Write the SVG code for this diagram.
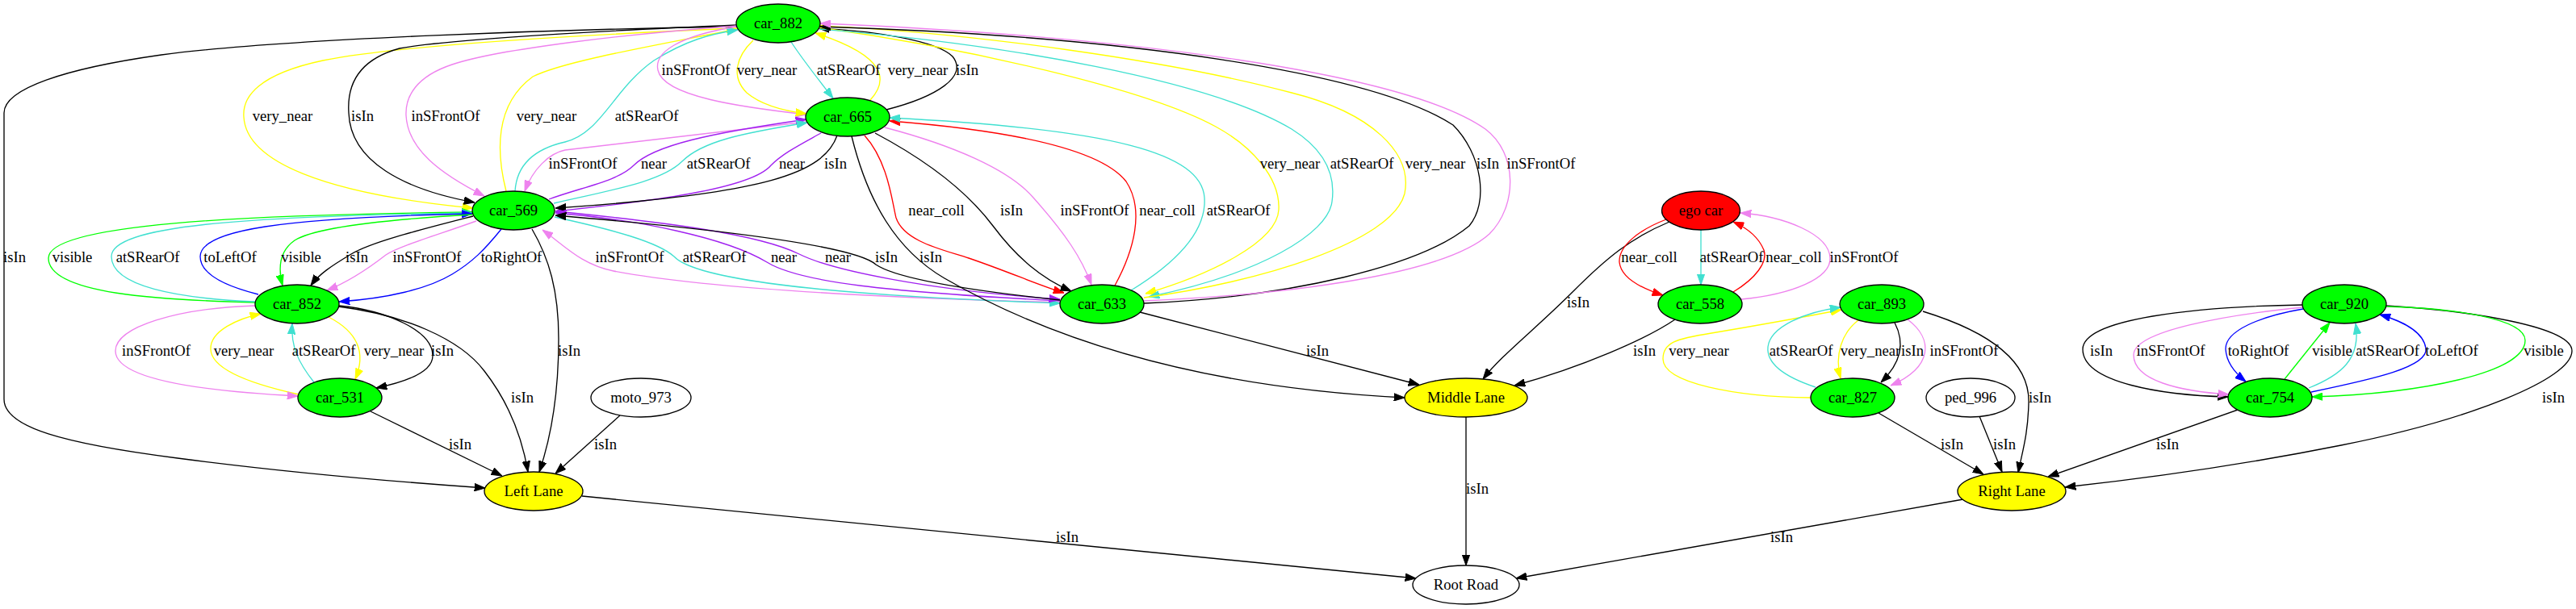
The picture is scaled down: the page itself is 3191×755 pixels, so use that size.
<svg xmlns="http://www.w3.org/2000/svg" width="3191" height="755" viewBox="0 0 3191 755">
<style>
.e{fill:none;stroke-width:1.33}
.k{stroke:#000;marker-end:url(#ak)}
.y{stroke:#ffff00;marker-end:url(#ay)}
.v{stroke:#ee82ee;marker-end:url(#av)}
.t{stroke:#40e0d0;marker-end:url(#at)}
.p{stroke:#a020f0;marker-end:url(#ap)}
.r{stroke:#ff0000;marker-end:url(#ar)}
.g{stroke:#00ff00;marker-end:url(#ag)}
.b{stroke:#0000ff;marker-end:url(#ab)}
.n ellipse{stroke:#000;stroke-width:1.33}
.gr{fill:#00ff00}.yl{fill:#ffff00}.rd{fill:#ff0000}.wh{fill:#fff}
text{font-family:"Liberation Serif","Times New Roman",serif;font-size:18.67px;text-anchor:middle;fill:#000}
</style>
<defs>
<marker id="ak" viewBox="0 0 13.3 10" refX="13.3" refY="5" markerWidth="13.3" markerHeight="10" markerUnits="userSpaceOnUse" orient="auto"><path d="M0,0.3L13.3,5L0,9.7z" fill="#000" stroke="#000"/></marker>
<marker id="ay" viewBox="0 0 13.3 10" refX="13.3" refY="5" markerWidth="13.3" markerHeight="10" markerUnits="userSpaceOnUse" orient="auto"><path d="M0,0.3L13.3,5L0,9.7z" fill="#ffff00" stroke="#ffff00"/></marker>
<marker id="av" viewBox="0 0 13.3 10" refX="13.3" refY="5" markerWidth="13.3" markerHeight="10" markerUnits="userSpaceOnUse" orient="auto"><path d="M0,0.3L13.3,5L0,9.7z" fill="#ee82ee" stroke="#ee82ee"/></marker>
<marker id="at" viewBox="0 0 13.3 10" refX="13.3" refY="5" markerWidth="13.3" markerHeight="10" markerUnits="userSpaceOnUse" orient="auto"><path d="M0,0.3L13.3,5L0,9.7z" fill="#40e0d0" stroke="#40e0d0"/></marker>
<marker id="ap" viewBox="0 0 13.3 10" refX="13.3" refY="5" markerWidth="13.3" markerHeight="10" markerUnits="userSpaceOnUse" orient="auto"><path d="M0,0.3L13.3,5L0,9.7z" fill="#a020f0" stroke="#a020f0"/></marker>
<marker id="ar" viewBox="0 0 13.3 10" refX="13.3" refY="5" markerWidth="13.3" markerHeight="10" markerUnits="userSpaceOnUse" orient="auto"><path d="M0,0.3L13.3,5L0,9.7z" fill="#ff0000" stroke="#ff0000"/></marker>
<marker id="ag" viewBox="0 0 13.3 10" refX="13.3" refY="5" markerWidth="13.3" markerHeight="10" markerUnits="userSpaceOnUse" orient="auto"><path d="M0,0.3L13.3,5L0,9.7z" fill="#00ff00" stroke="#00ff00"/></marker>
<marker id="ab" viewBox="0 0 13.3 10" refX="13.3" refY="5" markerWidth="13.3" markerHeight="10" markerUnits="userSpaceOnUse" orient="auto"><path d="M0,0.3L13.3,5L0,9.7z" fill="#0000ff" stroke="#0000ff"/></marker>
</defs>
<rect width="3191" height="755" fill="#fff"/>
<g id="edges">
<!-- car_882 edges -->
<path class="e k" d="M913,33 C700,36 350,48 200,68 C80,85 5,110 5,140 L5,495 C5,530 80,550 220,568 C350,585 500,598 601,605"/>
<path class="e y" d="M912,35 C750,42 500,55 400,75 C320,92 300,120 302,145 C305,200 400,240 586,258"/>
<path class="e k" d="M913,31 C750,38 560,48 495,60 C440,75 430,110 432,140 C434,200 500,235 588,251"/>
<path class="e v" d="M913,32 C780,42 620,60 560,80 C515,95 502,120 503,143 C505,185 545,215 600,243"/>
<path class="e y" d="M627,237 C615,190 612,130 660,95 C700,75 820,55 913,36"/>
<path class="e t" d="M638,237 C640,205 660,185 700,176 C745,165 760,110 810,75 C850,50 880,42 914,37"/>
<path class="e v" d="M912,33 C840,45 810,65 815,87 C822,120 920,133 999,142"/>
<path class="e y" d="M933,50 C912,70 905,95 925,115 C945,132 975,138 999,141"/>
<path class="e t" d="M980,52 C995,75 1015,100 1032,122"/>
<path class="e y" d="M1078,124 C1100,100 1100,70 1010,41"/>
<path class="e k" d="M1098,136 C1160,120 1200,95 1180,70 C1160,50 1080,38 1014,35"/>
<path class="e y" d="M1014,34 C1200,60 1420,110 1506,157 C1550,181 1586,220 1584,260 C1582,300 1500,340 1419,364"/>
<path class="e t" d="M1015,36 C1250,55 1500,100 1600,160 C1640,185 1655,215 1650,250 C1645,290 1560,340 1423,368"/>
<path class="e y" d="M1417,369 C1560,350 1725,300 1740,240 C1750,190 1700,140 1600,115 C1450,75 1200,40 1015,32"/>
<path class="e k" d="M1417,376 C1600,368 1760,330 1820,280 C1845,250 1835,190 1800,155 C1700,90 1400,45 1016,33"/>
<path class="e v" d="M1417,373 C1600,365 1790,340 1845,290 C1880,255 1880,190 1840,160 C1740,90 1400,45 1016,29"/>
<!-- car_665 / car_569 -->
<path class="e v" d="M999,151 L700,186 C680,190 660,210 650,237"/>
<path class="e p" d="M680,247 C720,232 765,225 785,205 C810,180 880,165 999,148"/>
<path class="e t" d="M686,252 C760,235 820,225 845,200 C870,175 920,165 1000,152"/>
<path class="e p" d="M1017,165 C990,180 970,190 955,205 C930,235 800,250 688,262"/>
<path class="e k" d="M1037,168 C1020,215 950,240 688,258"/>
<!-- car_569 / car_633 -->
<path class="e v" d="M1313,375 C1050,368 860,355 760,336 C720,328 700,305 672,285"/>
<path class="e t" d="M687,269 C760,285 815,300 835,318 C860,345 1000,365 1313,376"/>
<path class="e p" d="M1313,373 C1100,362 990,350 950,325 C900,295 790,272 688,264"/>
<path class="e p" d="M689,262 C820,275 940,290 990,315 C1030,335 1150,360 1313,371"/>
<path class="e k" d="M1313,372 C1200,360 1110,345 1085,328 C1060,305 900,285 688,267"/>
<path class="e k" d="M1055,169 C1075,250 1110,310 1170,345 C1300,420 1480,480 1740,493"/>
<!-- car_665 / car_633 -->
<path class="e r" d="M1071,168 C1100,200 1105,250 1110,270 C1120,300 1170,310 1200,320 C1250,337 1290,355 1318,363"/>
<path class="e k" d="M1084,165 C1150,200 1200,240 1230,280 C1260,320 1290,345 1327,361"/>
<path class="e v" d="M1096,158 C1180,180 1250,210 1280,245 C1320,290 1340,320 1352,353"/>
<path class="e r" d="M1381,354 C1405,310 1418,260 1395,225 C1360,180 1230,160 1102,150"/>
<path class="e t" d="M1401,360 C1450,330 1495,290 1492,245 C1488,190 1380,160 1102,146"/>
<!-- car_852 / car_569 -->
<path class="e g" d="M316,375 C200,372 60,365 60,320 C60,278 300,266 585,263"/>
<path class="e t" d="M316,374 C220,370 138,355 138,318 C138,280 300,268 585,264"/>
<path class="e b" d="M320,365 C280,355 248,340 248,318 C248,285 350,270 585,265"/>
<path class="e g" d="M585,266 C480,272 390,282 365,298 C345,312 345,335 350,354"/>
<path class="e k" d="M586,268 C520,285 460,300 435,315 C410,330 395,340 385,354"/>
<path class="e v" d="M590,274 C540,292 495,305 478,316 C460,330 435,348 405,360"/>
<path class="e b" d="M621,284 C600,310 585,325 560,340 C530,358 480,370 420,374"/>
<path class="e k" d="M659,284 C680,320 692,360 692,420 C692,500 680,550 668,585"/>
<!-- car_852 / car_531 / Left Lane -->
<path class="e k" d="M420,379 C480,385 535,410 536,440 C537,460 505,473 466,481"/>
<path class="e k" d="M419,380 C500,390 570,420 600,460 C635,505 648,550 654,585"/>
<path class="e y" d="M407,393 C440,410 455,435 440,470"/>
<path class="e t" d="M389,474 C370,450 360,430 362,401"/>
<path class="e y" d="M370,489 C320,478 262,460 261,433 C260,410 295,395 323,389"/>
<path class="e v" d="M316,379 C220,382 143,405 143,435 C143,470 250,485 369,491"/>
<path class="e k" d="M459,510 L622,590"/>
<path class="e k" d="M768,515 L688,587"/>
<path class="e k" d="M721,615 L1754,717"/>
<!-- Middle Lane -->
<path class="e k" d="M1412,387 L1758,477"/>
<path class="e k" d="M2068,275 C2020,295 1990,320 1950,360 C1900,410 1860,440 1837,470"/>
<path class="e k" d="M2075,396 C2040,420 1960,455 1876,478"/>
<path class="e k" d="M1816,516 L1816,701"/>
<!-- ego / car_558 -->
<path class="e r" d="M2064,272 C2030,285 2005,305 2006,325 C2008,345 2035,358 2060,366"/>
<path class="e t" d="M2107,285 L2107,353"/>
<path class="e r" d="M2147,362 C2175,345 2190,325 2185,310 C2178,293 2165,283 2147,275"/>
<path class="e v" d="M2157,371 C2220,365 2268,345 2267,320 C2266,290 2210,268 2156,264"/>
<!-- car_893 / car_827 -->
<path class="e y" d="M2243,493 C2150,492 2060,475 2060,445 C2060,425 2075,420 2120,413 C2180,403 2240,392 2281,384"/>
<path class="e t" d="M2249,480 C2210,467 2188,450 2190,430 C2193,405 2235,387 2280,381"/>
<path class="e y" d="M2302,397 C2282,412 2272,440 2280,469"/>
<path class="e k" d="M2347,400 C2360,425 2355,450 2330,474"/>
<path class="e v" d="M2363,396 C2395,420 2395,455 2342,478"/>
<path class="e k" d="M2382,386 C2460,410 2515,445 2513,500 C2512,540 2505,560 2500,586"/>
<path class="e k" d="M2327,512 L2457,588"/>
<path class="e k" d="M2452,516 L2480,585"/>
<path class="e k" d="M2772,508 L2537,591"/>
<path class="e k" d="M2956,379 C3060,385 3186,405 3186,435 C3186,470 3060,520 2900,552 C2760,580 2640,595 2558,604"/>
<path class="e k" d="M2432,619 L1878,717"/>
<!-- car_920 / car_754 -->
<path class="e k" d="M2852,378 C2720,380 2580,395 2580,433 C2580,475 2680,490 2760,492"/>
<path class="e v" d="M2853,381 C2760,390 2643,410 2643,440 C2643,472 2700,485 2761,489"/>
<path class="e b" d="M2853,383 C2800,392 2756,410 2757,433 C2758,450 2768,462 2782,473"/>
<path class="e g" d="M2830,470 L2886,400"/>
<path class="e t" d="M2860,481 C2900,465 2925,445 2918,401"/>
<path class="e b" d="M2863,486 C2940,470 3008,455 3005,432 C3002,410 2975,398 2948,390"/>
<path class="e g" d="M2956,380 C3040,382 3128,395 3128,422 C3128,462 3000,488 2864,492"/>
</g>
<g id="edge-labels">
<text x="862" y="93">inSFrontOf</text><text x="950" y="93">very_near</text><text x="1051" y="93">atSRearOf</text><text x="1137" y="93">very_near</text><text x="1198" y="93">isIn</text>
<text x="350" y="150">very_near</text><text x="449" y="150">isIn</text><text x="552" y="150">inSFrontOf</text><text x="677" y="150">very_near</text><text x="801" y="150">atSRearOf</text>
<text x="722" y="209">inSFrontOf</text><text x="810" y="209">near</text><text x="890" y="209">atSRearOf</text><text x="981" y="209">near</text><text x="1035" y="209">isIn</text>
<text x="1598" y="209">very_near</text><text x="1687" y="209">atSRearOf</text><text x="1778" y="209">very_near</text><text x="1843" y="209">isIn</text><text x="1909" y="209">inSFrontOf</text>
<text x="1160" y="267">near_coll</text><text x="1253" y="267">isIn</text><text x="1356" y="267">inSFrontOf</text><text x="1446" y="267">near_coll</text><text x="1534" y="267">atSRearOf</text>
<text x="18" y="325">isIn</text><text x="89.5" y="325">visible</text><text x="183" y="325">atSRearOf</text><text x="285" y="325">toLeftOf</text><text x="373" y="325">visible</text><text x="442" y="325">isIn</text><text x="529" y="325">inSFrontOf</text><text x="633.5" y="325">toRightOf</text>
<text x="780" y="325">inSFrontOf</text><text x="885" y="325">atSRearOf</text><text x="971" y="325">near</text><text x="1038" y="325">near</text><text x="1098" y="325">isIn</text><text x="1153" y="325">isIn</text>
<text x="2043" y="325">near_coll</text><text x="2145" y="325">atSRearOf</text><text x="2222" y="325">near_coll</text><text x="2309" y="325">inSFrontOf</text>
<text x="1955" y="381">isIn</text>
<text x="193.5" y="441">inSFrontOf</text><text x="302" y="441">very_near</text><text x="401" y="441">atSRearOf</text><text x="488" y="441">very_near</text><text x="548" y="441">isIn</text><text x="705" y="441">isIn</text>
<text x="1632" y="441">isIn</text><text x="2037" y="441">isIn</text><text x="2104.5" y="441">very_near</text><text x="2231" y="441">atSRearOf</text><text x="2317" y="441">very_near</text><text x="2369" y="441">isIn</text><text x="2433" y="441">inSFrontOf</text>
<text x="2603" y="441">isIn</text><text x="2689" y="441">inSFrontOf</text><text x="2797.5" y="441">toRightOf</text><text x="2889" y="441">visible</text><text x="2957.5" y="441">atSRearOf</text><text x="3037" y="441">toLeftOf</text><text x="3151" y="441">visible</text>
<text x="647" y="499">isIn</text><text x="2527" y="499">isIn</text><text x="3163" y="499">isIn</text>
<text x="570" y="557">isIn</text><text x="750" y="557">isIn</text><text x="2418" y="557">isIn</text><text x="2483" y="557">isIn</text><text x="2685" y="557">isIn</text>
<text x="1830" y="612">isIn</text>
<text x="1322" y="672">isIn</text><text x="2207" y="672">isIn</text>
</g>
<g id="car_882" class="n"><ellipse class="gr" cx="964" cy="29" rx="52" ry="24"/><text x="964" y="35">car_882</text></g>
<g id="car_665" class="n"><ellipse class="gr" cx="1050" cy="145" rx="52" ry="24"/><text x="1050" y="151">car_665</text></g>
<g id="car_569" class="n"><ellipse class="gr" cx="636" cy="261" rx="51" ry="24"/><text x="636" y="267">car_569</text></g>
<g id="car_852" class="n"><ellipse class="gr" cx="368" cy="377" rx="52" ry="24"/><text x="368" y="383">car_852</text></g>
<g id="car_531" class="n"><ellipse class="gr" cx="421" cy="493" rx="52" ry="24"/><text x="421" y="499">car_531</text></g>
<g id="moto_973" class="n"><ellipse class="wh" cx="794" cy="493" rx="62" ry="24"/><text x="794" y="499">moto_973</text></g>
<g id="left_lane" class="n"><ellipse class="yl" cx="661" cy="609" rx="61" ry="24"/><text x="661" y="615">Left Lane</text></g>
<g id="car_633" class="n"><ellipse class="gr" cx="1365" cy="377" rx="52" ry="24"/><text x="1365" y="383">car_633</text></g>
<g id="middle_lane" class="n"><ellipse class="yl" cx="1816" cy="493" rx="76" ry="24"/><text x="1816" y="499">Middle Lane</text></g>
<g id="root_road" class="n"><ellipse class="wh" cx="1816" cy="725" rx="66" ry="24"/><text x="1816" y="731">Root Road</text></g>
<g id="ego_car" class="n"><ellipse class="rd" cx="2107" cy="261" rx="48.5" ry="24"/><text x="2107" y="267">ego car</text></g>
<g id="car_558" class="n"><ellipse class="gr" cx="2106" cy="377" rx="52" ry="24"/><text x="2106" y="383">car_558</text></g>
<g id="car_893" class="n"><ellipse class="gr" cx="2331" cy="377" rx="52" ry="24"/><text x="2331" y="383">car_893</text></g>
<g id="car_827" class="n"><ellipse class="gr" cx="2295" cy="493" rx="52" ry="24"/><text x="2295" y="499">car_827</text></g>
<g id="ped_996" class="n"><ellipse class="wh" cx="2441" cy="493" rx="55" ry="24"/><text x="2441" y="499">ped_996</text></g>
<g id="right_lane" class="n"><ellipse class="yl" cx="2492" cy="609" rx="67" ry="24"/><text x="2492" y="615">Right Lane</text></g>
<g id="car_920" class="n"><ellipse class="gr" cx="2904" cy="377" rx="52" ry="24"/><text x="2904" y="383">car_920</text></g>
<g id="car_754" class="n"><ellipse class="gr" cx="2812" cy="493" rx="52" ry="24"/><text x="2812" y="499">car_754</text></g>
</svg>
